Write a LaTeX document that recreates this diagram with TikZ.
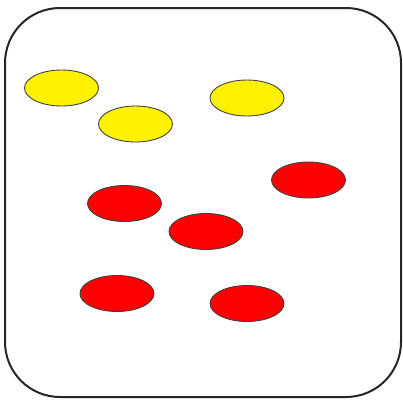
\documentclass[tikz,border=0pt]{standalone}
\usepackage{tikz}
\usetikzlibrary{shapes.geometric}
\tikzset{frame/.style={line width=2pt,draw=black!85,rounded corners=55pt},
blob/.style={ellipse,draw=black!75,line width=.9pt,minimum width=74pt,minimum height=36pt,inner sep=0pt},
yel/.style={blob,fill=yellow},red/.style={blob,fill=red}}

\begin{document}
\begin{tikzpicture}[x=1pt,y=-1pt]
\useasboundingbox (0,0) rectangle (403,399);
\draw[frame] (5,8) rectangle (401,397);
\node[yel] (y1) at (61.5,88) {};
\node[yel] (y2) at (135.5,124) {};
\node[yel] (y3) at (247,98) {};
\node[red] (r1) at (308.5,180) {};
\node[red] (r2) at (124.5,203.5) {};
\node[red] (r3) at (206,231.5) {};
\node[red] (r4) at (117,293.5) {};
\node[red] (r5) at (247,303.5) {};
\end{tikzpicture}
\end{document}
